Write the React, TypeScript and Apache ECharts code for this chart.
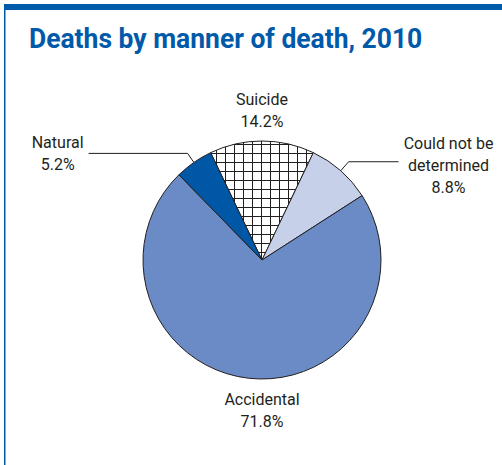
import React, { useEffect, useRef } from 'react';
import * as echarts from 'echarts';

const titleText = 'Deaths by manner of death, 2010';
const categories = ['Suicide', 'Could not be determined', 'Accidental', 'Natural'];
const labelNames = ['Suicide', 'Could not be\ndetermined', 'Accidental', 'Natural'];
const shares = [14.2, 8.8, 71.8, 5.2];

const W = 502;
const H = 465;
const CX = 262;
const CY = 260;
const R = 119;
const INK = '#231f20';
const BLUE = '#0059a9';
const FONT = 'Roboto, "Noto Sans", sans-serif';

function makeHatch(): HTMLCanvasElement {
  const c = document.createElement('canvas');
  c.width = 9;
  c.height = 9;
  const g = c.getContext('2d')!;
  g.fillStyle = '#ffffff';
  g.fillRect(0, 0, 9, 9);
  g.fillStyle = INK;
  g.fillRect(0, 0, 9, 1);
  g.fillRect(0, 0, 1, 9);
  return c;
}

export default function App() {
  const ref = useRef<HTMLDivElement>(null);

  useEffect(() => {
    if (!ref.current) return;
    const chart = echarts.init(ref.current, undefined, { renderer: 'svg' });
    const hatch = makeHatch();
    const fills: any[] = [
      { image: hatch, repeat: 'repeat' },
      '#c6d0e9',
      '#6a8bc6',
      '#0057a6',
    ];
    const lineCfg: any[] = [
      { show: false },
      { show: true, length: 12, length2: 50 },
      { show: false },
      { show: true, length: 11, length2: 99 },
    ];
    const data = categories.map((name, i) => ({
      name,
      value: shares[i],
      itemStyle: { color: fills[i] },
      labelLine: lineCfg[i],
      label: i === 1 ? { padding: [8, 0, 0, 0] } : {},
    }));

    const option: any = {
      animation: false,
      backgroundColor: '#ffffff',
      graphic: [
        { type: 'rect', shape: { x: 4, y: 4, width: W - 4, height: 6 }, style: { fill: '#005bab' } },
        { type: 'rect', shape: { x: 4, y: 4, width: 1.5, height: H - 4 }, style: { fill: '#005bab' } },
        {
          type: 'text',
          x: 29,
          y: 38.5,
          scaleX: 0.98,
          style: {
            text: titleText,
            fill: BLUE,
            fontFamily: FONT,
            fontWeight: 'bold',
            fontSize: 27,
            verticalAlign: 'middle',
            align: 'left',
          },
        },
      ],
      series: [
        {
          type: 'pie',
          center: [CX, CY],
          radius: R,
          startAngle: 90 + (shares[0] * 3.6) / 2,
          clockwise: true,
          avoidLabelOverlap: false,
          itemStyle: { borderColor: INK, borderWidth: 1 },
          emphasis: { disabled: true },
          label: {
            show: true,
            position: 'outside',
            distanceToLabelLine: 5,
            color: INK,
            fontFamily: FONT,
            fontSize: 16,
            lineHeight: 22,
            formatter: (p: any) => {
              const lines = labelNames[p.dataIndex].split('\n');
              lines.push(p.value.toFixed(1) + '%');
              return lines.map((l) => '{c|' + l + '}').join('\n');
            },
            rich: {
              c: { align: 'center', color: INK, fontFamily: FONT, fontSize: 16, lineHeight: 22 },
            },
          },
          labelLine: { show: true, lineStyle: { color: INK, width: 1 } },
          labelLayout: (p: any) => {
            if (p.dataIndex === 0) {
              return { x: CX, y: CY - R - 9, align: 'center', verticalAlign: 'bottom' };
            }
            if (p.dataIndex === 2) {
              return { x: CX, y: CY + R + 9, align: 'center', verticalAlign: 'top' };
            }
            return {};
          },
          data,
        },
      ],
    };
    chart.setOption(option);
    return () => chart.dispose();
  }, []);

  return (
    <div
      ref={ref}
      style={{ position: 'absolute', left: 0, top: 0, width: W, height: H, background: '#fff' }}
    />
  );
}
